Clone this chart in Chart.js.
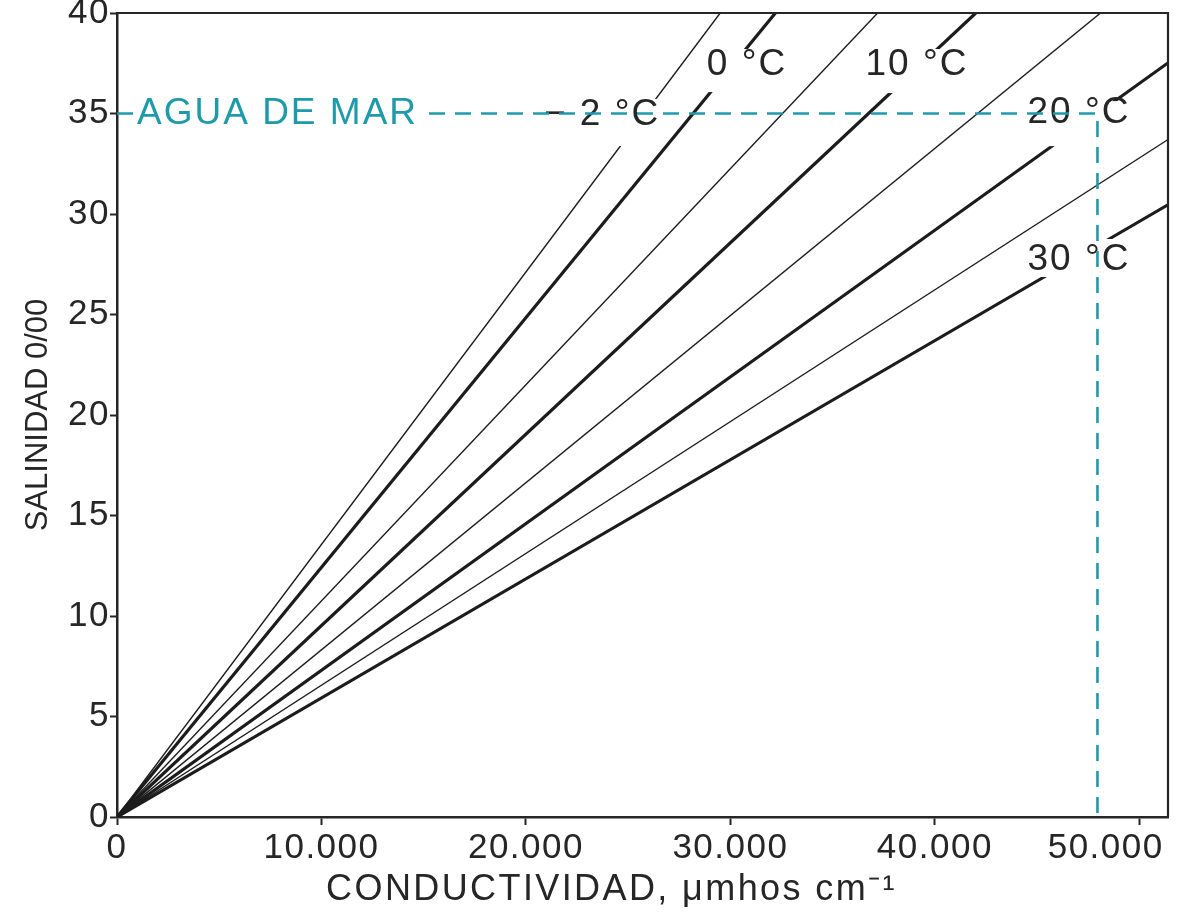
<!DOCTYPE html>
<html lang="es">
<head>
<meta charset="utf-8">
<title>Salinidad frente a conductividad</title>
<script src="https://cdn.jsdelivr.net/npm/chart.js@4.4.1/dist/chart.umd.min.js"></script>
<style>
  html, body { margin: 0; padding: 0; background: #ffffff; }
  #wrap { width: 1186px; height: 912px; }
</style>
</head>
<body>
<div id="wrap"><canvas id="chart" width="1186" height="912"></canvas></div>
<script>
// Temperature isolines: salinity (‰) against conductivity (µmhos/cm)
const temperatures = [-2, 0, 5, 10, 15, 20, 25, 30];
// conductivity reached by each isoline at a salinity of 40 ‰
const conductivityAt40 = [29500, 32200, 37200, 42000, 48100, 54800, 61000, 67500];
const isolineTopSalinity = 40;

// sea water reference point
const seawaterSalinity = 35;
const seawaterConductivity = 47950;

const xTickValues = [0, 10000, 20000, 30000, 40000, 50000];
const xTickLabels = ['0', '10.000', '20.000', '30.000', '40.000', '50.000'];
const yTickValues = [0, 5, 10, 15, 20, 25, 30, 35, 40];
const yTickLabels = ['0', '5', '10', '15', '20', '25', '30', '35', '40'];

const isolineTags = ['− 2 °C', '0 °C', '10 °C', '20 °C', '30 °C'];
const seawaterTag = 'AGUA DE MAR';
const xTitle = 'CONDUCTIVIDAD, μmhos cm⁻¹';
const yTitle = 'SALINIDAD 0/00';

// ---- styling / placement ----
const FONT = "'Liberation Sans', Arial, Helvetica, sans-serif";
const INK = '#262626';
const TEAL = '#1f9aaa';

// tag placement in data coordinates plus the white knock-out around each tag
const tagPlacement = [
  { x: 23720, y: 34.93, pad: { l: 4, r: 2, t: 16, b: 31 } },
  { x: 30810, y: 37.41, pad: { l: 4, r: 2, t: 16, b: 27 } },
  { x: 39124, y: 37.41, pad: { l: 4, r: 2, t: 16, b: 28 } },
  { x: 47046, y: 35.02, pad: { l: 3, r: 1, t: 12, b: 33 } },
  { x: 47046, y: 27.71, pad: { l: 3, r: 1, t: 21, b: 17 } }
];
const seawaterTagPlacement = { x: 978, y: 35, pad: { l: 4, r: 6, t: 16, b: 16 } };

const datasets = temperatures.map((t, i) => ({
  label: t + ' °C',
  data: [{ x: 0, y: 0 }, { x: conductivityAt40[i], y: isolineTopSalinity }],
  borderColor: '#1c1c1c',
  borderWidth: t % 10 === 0 ? 3.2 : 1.4,
  pointRadius: 0,
  fill: false,
  tension: 0,
  order: 10
}));

datasets.push({
  label: seawaterTag,
  data: [
    { x: 0, y: seawaterSalinity },
    { x: seawaterConductivity, y: seawaterSalinity },
    { x: seawaterConductivity, y: 0 }
  ],
  borderColor: TEAL,
  borderWidth: 2.6,
  borderDash: [16, 10],
  pointRadius: 0,
  fill: false,
  tension: 0,
  order: 0
});
const seawaterIndex = datasets.length - 1;

// wide-set lettering used throughout the figure
function spaced(scale, method, spacing) {
  const key = '_spaced_' + method;
  if (scale[key]) return;
  const orig = scale[method];
  scale[method] = function (...args) {
    const ctx = this.ctx;
    const prev = ctx.letterSpacing;
    ctx.letterSpacing = spacing;
    orig.apply(this, args);
    ctx.letterSpacing = prev;
  };
  scale[key] = true;
}

function drawTag(chart, text, place, color, align) {
  const ctx = chart.ctx;
  const px = chart.scales.x.getPixelForValue(place.x);
  const py = chart.scales.y.getPixelForValue(place.y);
  ctx.save();
  ctx.font = '37px ' + FONT;
  ctx.letterSpacing = '2px';
  const w = ctx.measureText(text).width;
  const left = align === 'left' ? px : px - w / 2;
  ctx.fillStyle = '#ffffff';
  ctx.fillRect(left - place.pad.l, py - place.pad.t, w + place.pad.l + place.pad.r, place.pad.t + place.pad.b);
  ctx.fillStyle = color;
  ctx.textAlign = 'left';
  ctx.textBaseline = 'middle';
  ctx.fillText(text, left, py);
  ctx.letterSpacing = '0px';
  ctx.restore();
}

const tagsPlugin = {
  id: 'isolineTags',
  beforeDatasetDraw(chart, args) {
    if (args.index !== seawaterIndex) return;
    isolineTags.forEach((text, i) => drawTag(chart, text, tagPlacement[i], INK, 'center'));
  },
  afterDatasetsDraw(chart) {
    drawTag(chart, seawaterTag, seawaterTagPlacement, TEAL, 'left');
  },
  afterDraw(chart) {
    const { ctx, chartArea: a } = chart;
    ctx.save();
    ctx.strokeStyle = INK;
    ctx.lineWidth = 2.2;
    ctx.beginPath();
    ctx.moveTo(a.left - 1, a.top);
    ctx.lineTo(a.right, a.top);
    ctx.lineTo(a.right, a.bottom);
    ctx.stroke();
    ctx.restore();
  }
};

new Chart(document.getElementById('chart'), {
  type: 'line',
  data: { datasets },
  plugins: [tagsPlugin],
  options: {
    responsive: false,
    devicePixelRatio: 1,
    animation: false,
    events: [],
    layout: { padding: { top: 13, right: 18, left: 0, bottom: 0 } },
    plugins: { legend: { display: false }, tooltip: { enabled: false } },
    scales: {
      x: {
        type: 'linear',
        min: 0,
        max: 51400,
        afterBuildTicks: s => { s.ticks = xTickValues.map(v => ({ value: v })); },
        afterFit: s => {
          s.height = 95; s.paddingLeft = 0; s.paddingRight = 0;
          spaced(s, 'drawLabels', '1.5px');
          spaced(s, 'drawTitle', '2.4px');
        },
        ticks: {
          autoSkip: false,
          maxRotation: 0,
          padding: 2,
          color: INK,
          font: { family: FONT, size: 35 },
          // the last label is nudged left so it stays inside the frame
          callback: (v, i) => i === xTickLabels.length - 1
            ? xTickLabels[i] + '\u00a0'.repeat(6)
            : xTickLabels[i]
        },
        grid: { drawOnChartArea: false, drawTicks: true, tickLength: 8, tickWidth: 2, tickColor: INK },
        border: { display: true, color: INK, width: 2.5 },
        title: {
          display: true,
          text: xTitle + '\u00a0'.repeat(5),
          color: INK,
          font: { family: FONT, size: 36 },
          padding: { top: 0, bottom: 0 }
        }
      },
      y: {
        type: 'linear',
        min: 0,
        max: 40,
        afterBuildTicks: s => { s.ticks = yTickValues.map(v => ({ value: v })); },
        afterFit: s => {
          s.width = 117; s.paddingTop = 0; s.paddingBottom = 0;
          spaced(s, 'drawLabels', '1.5px');
        },
        ticks: {
          padding: 0,
          color: INK,
          font: { family: FONT, size: 35 },
          callback: (v, i) => yTickLabels[i]
        },
        grid: { drawOnChartArea: false, drawTicks: true, tickLength: 7, tickWidth: 2, tickColor: INK },
        border: { display: true, color: INK, width: 2.5 },
        title: {
          display: true,
          text: yTitle,
          color: INK,
          font: { family: FONT, size: 31 },
          padding: { top: 20, bottom: 0 }
        }
      }
    }
  }
});
</script>
</body>
</html>
